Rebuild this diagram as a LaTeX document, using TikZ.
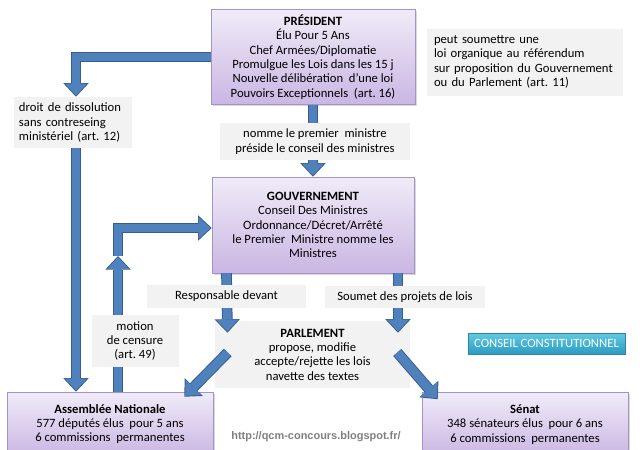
\documentclass[tikz,border=0pt]{standalone}
\usepackage{fontspec}
\setmainfont{Carlito}
\newfontfamily\urlfont{Liberation Sans}
\usepackage{xcolor}
\usetikzlibrary{arrows.meta,calc,shadows}
\frenchspacing
\pgfdeclarelayer{foreground}
\pgfsetlayers{main,foreground}
\definecolor{boxtop}{HTML}{F0EBF8}
\definecolor{boxbottom}{HTML}{CAB6E3}
\definecolor{boxline}{HTML}{A493C6}
\definecolor{notegray}{HTML}{F2F2F2}
\definecolor{arrowblue}{HTML}{4F81BD}
\definecolor{arrowedge}{HTML}{385D8A}
\definecolor{cctop}{HTML}{62CAE2}
\definecolor{ccbottom}{HTML}{2A9BC0}
\definecolor{ccline}{HTML}{2A86A6}
\def\px{0.025cm}
\tikzset{
  organ/.style = {draw=boxline, top color=boxtop, bottom color=boxbottom,
                  drop shadow={shadow xshift=1.2pt, shadow yshift=-1.2pt, opacity=0.3},
                  align=center, inner sep=2pt},
  note/.style = {fill=notegray, align=center, inner sep=2pt},
  flowedge/.style = {draw=arrowedge, line width=7.6pt, line join=miter,
                     -{Triangle[width=18pt,length=9.6pt,line width=0pt]}},
  flowfill/.style = {draw=arrowblue, line width=6.2pt, line join=miter, shorten >=0.9pt,
                     -{Triangle[width=15.6pt,length=8.4pt,line width=0pt]}}
}
\newcommand\flow[1]{\draw[flowedge] #1; \draw[flowfill] #1;}

\begin{document}
\begin{tikzpicture}[x=0.025cm, y=-0.025cm, every node/.style={font=\fontsize{9}{10.2}\selectfont}]
	\useasboundingbox (0,0) rectangle (640,449);

	% Organes
	\node[organ, minimum width=204*\px, minimum height=95*\px] (pres) at (313,57)
		{\textbf{PRÉSIDENT}\\Élu Pour 5 Ans\\Chef Armées/Diplomatie\\Promulgue les Lois dans les 15 j\\Nouvelle délibération\ \ d'une loi\\Pouvoirs Exceptionnels\ \ (art. 16)};
	\node[organ, minimum width=202*\px, minimum height=96*\px] (gouv) at (313,225)
		{\textbf{GOUVERNEMENT}\\Conseil Des Ministres\\Ordonnance/Décret/Arrêté\\le Premier\ \ Ministre nomme les\\Ministres};
	\node[note, minimum width=195*\px, minimum height=67*\px] (parl) at (312.5,354.5)
		{\textbf{PARLEMENT}\\propose, modifie\\accepte/rejette les lois\\navette des textes};
	\node[organ, minimum width=206*\px, minimum height=64*\px] (assem) at (110,424)
		{\textbf{Assemblée Nationale}\\577 députés élus\ \ pour 5 ans\\6 commissions\ \ permanentes};
	\node[organ, minimum width=206*\px, minimum height=64*\px] (senat) at (525,424.5)
		{\textbf{Sénat}\\348 sénateurs élus\ \ pour 6 ans\\6 commissions\ \ permanentes};
	\node[draw=ccline, top color=cctop, bottom color=ccbottom, text=white,
		drop shadow={shadow xshift=1pt, shadow yshift=-1pt, opacity=0.3},
		minimum width=157*\px, minimum height=21*\px, inner sep=1pt] (cc) at (546.5,343.5)
		{CONSEIL CONSTITUTIONNEL};
	\node[note, align=left, text width=182*\px, minimum height=67*\px, inner xsep=7*\px] (refer) at (525,62)
		{peut soumettre une\\loi organique au référendum\\sur proposition du Gouvernement\\ou du Parlement (art. 11)};
	\node[text=black!50, font=\urlfont\bfseries\fontsize{7.8}{9}\selectfont] (url) at (316,437)
		{http://qcm-concours.blogspot.fr/};

	% Etiquettes
	\begin{pgfonlayer}{foreground}
	\node[note, minimum width=190*\px, minimum height=37*\px] (nomme) at (315,141.5)
		{nomme le premier\ \ ministre\\préside le conseil des ministres};
	\node[note, align=left, text width=108*\px, minimum height=51*\px, inner xsep=5*\px] (dissol) at (73,122.5)
		{droit de dissolution\\sans contreseing\\ministériel (art. 12)};
	\node[note, minimum width=159*\px, minimum height=23*\px] (resp) at (226.5,296)
		{Responsable devant};
	\node[note, minimum width=160*\px, minimum height=22*\px] (soumet) at (405,297)
		{Soumet des projets de lois};
	\node[note, minimum width=87*\px, minimum height=52*\px] (motion) at (135,341)
		{motion\\de censure\\(art. 49)};
	\end{pgfonlayer}

	% Fleches
	\coordinate (dis) at ($(dissol.south)+(3,0)$);
	\coordinate (cens) at (118,256);
	\flow{(pres.south) -- (pres.south |- gouv.north)}
	\flow{(pres.west) -| ($(dissol.north)+(3,0)$)}
	\flow{(dis) -- (dis |- assem.north)}
	\flow{(cens) |- ($(gouv.west)+(0,3)$)}
	\flow{(cens |- assem.north) -- (cens)}
	\flow{(resp |- gouv.south) -- ($(resp |- parl.north)+(1,12)$)}
	\flow{($(soumet |- gouv.south)+(-7,0)$) -- ($(soumet |- parl.north)+(-7,12)$)}
	\flow{($(parl.west)+(13,-2)$) -- ($(assem.north east)+(-29,5)$)}
	\flow{($(parl.east)+(-13,-2)$) -- ($(senat.north west)+(16,7)$)}

\end{tikzpicture}
\end{document}
